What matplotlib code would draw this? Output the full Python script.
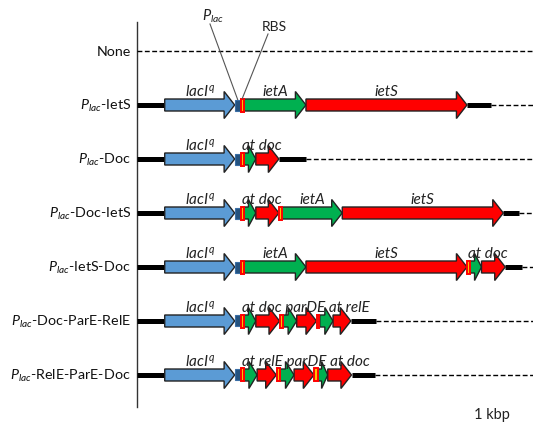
import matplotlib
matplotlib.use("Agg")
import matplotlib.pyplot as plt
from matplotlib.patches import Polygon, Rectangle

plt.rcParams['font.family'] = ['Lato', 'DejaVu Sans']
plt.rcParams['mathtext.fontset'] = 'custom'
plt.rcParams['mathtext.rm'] = 'Lato'
plt.rcParams['mathtext.it'] = 'Lato:italic'

# ---------------- data (lengths in kbp) ----------------
row_labels = ['None', r'$P_{lac}$-IetS', r'$P_{lac}$-Doc', r'$P_{lac}$-Doc-IetS',
              r'$P_{lac}$-IetS-Doc', r'$P_{lac}$-Doc-ParE-RelE', r'$P_{lac}$-RelE-ParE-Doc']

prefix_types = ['line', 'lacI', 'plac', 'rbs']
prefix_lengths = [0.42, 1.06, 0.09, 0.05]

# labels: (text, first segment, last segment, centered?)
row1_types = ['green', 'red', 'line']
row1_lengths = [0.94, 2.44, 0.36]
row1_labels = [('ietA', 0, 0, True), ('ietS', 1, 1, True)]

row2_types = ['green', 'red', 'line']
row2_lengths = [0.18, 0.35, 0.41]
row2_labels = [('at doc', 0, 1, False)]

row3_types = ['green', 'red', 'rbs', 'green', 'red', 'line']
row3_lengths = [0.18, 0.35, 0.05, 0.91, 2.44, 0.24]
row3_labels = [('at doc', 0, 1, False), ('ietA', 3, 3, True), ('ietS', 4, 4, True)]

row4_types = ['green', 'red', 'rbs', 'green', 'red', 'line']
row4_lengths = [0.94, 2.44, 0.05, 0.17, 0.36, 0.26]
row4_labels = [('ietA', 0, 0, True), ('ietS', 1, 1, True), ('at doc', 3, 4, False)]

row5_types = ['green', 'red', 'rbs', 'green', 'red', 'rbs', 'green', 'red', 'line']
row5_lengths = [0.18, 0.36, 0.05, 0.21, 0.30, 0.05, 0.20, 0.27, 0.38]
row5_labels = [('at doc parDE at relE', 0, 7, False)]

row6_types = ['green', 'red', 'rbs', 'green', 'red', 'rbs', 'green', 'red', 'line']
row6_lengths = [0.20, 0.29, 0.06, 0.21, 0.30, 0.06, 0.15, 0.36, 0.36]
row6_labels = [('at relE parDE at doc', 0, 7, False)]

rows = [None,
        (row1_types, row1_lengths, row1_labels),
        (row2_types, row2_lengths, row2_labels),
        (row3_types, row3_lengths, row3_labels),
        (row4_types, row4_lengths, row4_labels),
        (row5_types, row5_lengths, row5_labels),
        (row6_types, row6_lengths, row6_labels)]

# ---------------- styles ----------------
COL = {'lacI': '#5B9BD5', 'green': '#00B050', 'red': '#FF0000'}
PX_X = 66.0   # px per kbp
PX_Y = 54.0   # px per row
W, H = 533, 427
X0PX, Y0PX = 137, 52

fig = plt.figure(figsize=(W / 100, H / 100), dpi=100)
ax = fig.add_axes([0, 0, 1, 1])
ax.set_xlim(-X0PX / PX_X, (W - X0PX) / PX_X)
ax.set_ylim((H - Y0PX) / PX_Y, -Y0PX / PX_Y)
ax.axis('off')
XMAX = (W - X0PX) / PX_X

hb = 6.0 / PX_Y
hh = 13.5 / PX_Y


def arrow(x0, L, yc, fc):
    hl = min(0.16, 0.62 * L)
    x1 = x0 + L
    pts = [(x0, yc - hb), (x1 - hl, yc - hb), (x1 - hl, yc - hh), (x1, yc),
           (x1 - hl, yc + hh), (x1 - hl, yc + hb), (x0, yc + hb)]
    ax.add_patch(Polygon(pts, closed=True, fc=fc, ec='#222222', lw=1.0, zorder=3))


# axis line
ax.plot([0, 0], [-29 / PX_Y, 6.6], color='#333333', lw=1.0, zorder=2)

label_y_off = 9.5 / PX_Y
plac_pos = None
rbs_pos = None

for i, label in enumerate(row_labels):
    ax.text(-6 / PX_X, i, label, ha='right', va='center', fontsize=10.3, color='#111111')
    if rows[i] is None:
        ax.plot([0, XMAX], [i, i], color='black', lw=1.0, dashes=(3.5, 1.8), zorder=2)
        continue
    types, lengths, labels = rows[i]
    all_types = prefix_types + types
    all_lengths = prefix_lengths + lengths
    x = 0.0
    starts = []
    for t, L in zip(all_types, all_lengths):
        starts.append(x)
        if t == 'line':
            ax.plot([x, x + L], [i, i], color='black', lw=3.6, solid_capstyle='butt', zorder=2)
        elif t == 'plac':
            ax.add_patch(Rectangle((x, i - 5.5 / PX_Y), L, 11 / PX_Y, fc='#24527E',
                                   ec='#3A6EA5', lw=0.8, zorder=3))
            if i == 1:
                plac_pos = (x + L / 2, i - 5.5 / PX_Y)
        elif t == 'rbs':
            ax.add_patch(Rectangle((x + 0.005, i - 6.5 / PX_Y), L - 0.01, 13 / PX_Y, fc='#FFC000',
                                   ec='#FF0000', lw=1.4, zorder=4))
            if i == 1:
                rbs_pos = (x + L / 2, i - 6.5 / PX_Y)
        else:
            arrow(x, L, i, COL[t])
        x += L
    ax.plot([x, XMAX], [i, i], color='black', lw=1.0, dashes=(3.5, 1.8), zorder=2)
    # lacI label
    ax.text(starts[1] + prefix_lengths[1] / 2, i - label_y_off, r'$lacI^{q}$',
            ha='center', va='baseline', fontsize=11, color='#222222')
    n = len(prefix_types)
    for text, a, b, centered in labels:
        if centered:
            xc = (starts[n + a] + starts[n + b] + lengths[b]) / 2
            ax.text(xc, i - label_y_off, text, ha='center', va='baseline', style='italic',
                    fontsize=11, color='#222222', zorder=5)
        else:
            ax.text(starts[n + a] - 0.03, i - label_y_off, text, ha='left', va='baseline',
                    style='italic', fontsize=11, color='#222222', zorder=5)

# annotations for promoter / RBS
ax.text((213 - X0PX) / PX_X, (16 - Y0PX) / PX_Y, r'$P_{lac}$', ha='center', va='center',
        fontsize=10.5, color='#222222')
ax.text((274 - X0PX) / PX_X, (27 - Y0PX) / PX_Y, 'RBS', ha='center', va='center',
        fontsize=10, color='#222222')
ax.plot([(210 - X0PX) / PX_X, plac_pos[0]], [(25 - Y0PX) / PX_Y, plac_pos[1]],
        color='#555555', lw=0.8, zorder=6)
ax.plot([(268 - X0PX) / PX_X, rbs_pos[0]], [(35 - Y0PX) / PX_Y, rbs_pos[1]],
        color='#555555', lw=0.8, zorder=6)

ax.text((492 - X0PX) / PX_X, (415 - Y0PX) / PX_Y, '1 kbp', ha='center', va='center',
        fontsize=10.5, color='#222222')

fig.savefig('out.png', dpi=100)
